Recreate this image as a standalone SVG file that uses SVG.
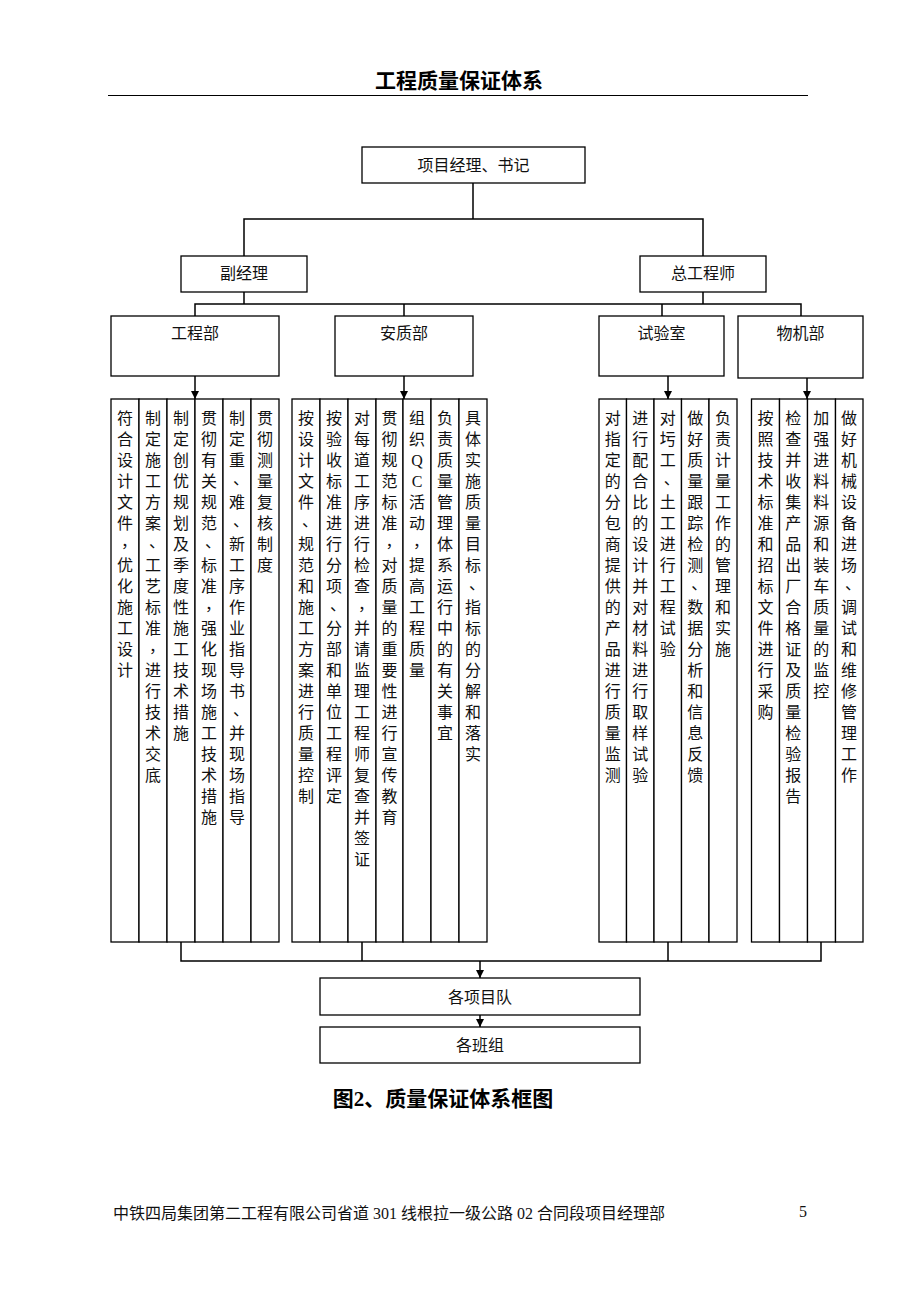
<svg xmlns="http://www.w3.org/2000/svg" width="920" height="1302" viewBox="0 0 920 1302">
<style>
.box{fill:#fff;stroke:#000;stroke-width:1.3}
.t{font-family:"Liberation Serif","Noto Sans CJK SC",serif;font-size:16px;text-anchor:middle;fill:#111}
.conn{stroke:#000;stroke-width:1.5;fill:none}
.h{font-family:"Liberation Serif","Noto Sans CJK SC",serif;font-size:21px;font-weight:bold;text-anchor:middle;fill:#000}
</style>
<defs>
<marker id="arr" markerUnits="userSpaceOnUse" markerWidth="9" markerHeight="9" refX="8" refY="4" orient="auto">
<path d="M0,0 L8,4 L0,8 z" fill="#000"/>
</marker>
</defs>
<rect width="920" height="1302" fill="#fff"/>
<text class="h" x="459" y="88">工程质量保证体系</text>
<line x1="108" y1="95.5" x2="808" y2="95.5" stroke="#000" stroke-width="1.2"/>

<g id="connectors">
<path class="conn" d="M473,183 V219 M244,256 V219 H703 V256"/>
<path class="conn" d="M244,292 V304 M703,292 V304 M195,316 V304 H801 V316 M404,304 V316 M662,304 V316"/>
<path class="conn" marker-end="url(#arr)" d="M195,376 V399"/>
<path class="conn" marker-end="url(#arr)" d="M404,376 V399"/>
<path class="conn" marker-end="url(#arr)" d="M668,376 V399"/>
<path class="conn" marker-end="url(#arr)" d="M807,378 V399"/>
<path class="conn" d="M181,942 V961 H821 V942 M362,942 V961 M668,942 V961"/>
<path class="conn" marker-end="url(#arr)" d="M480,961 V978"/>
<path class="conn" marker-end="url(#arr)" d="M480,1015 V1027"/>
</g>

<g id="n-pm"><rect class="box" x="362" y="147" width="223" height="36"/><text class="t" x="473.5" y="171">项目经理、书记</text></g>
<g id="n-dm"><rect class="box" x="181" y="256" width="126" height="36"/><text class="t" x="244" y="279">副经理</text></g>
<g id="n-ce"><rect class="box" x="640" y="256" width="126" height="36"/><text class="t" x="703" y="279">总工程师</text></g>
<g id="n-gcb"><rect class="box" x="111" y="316" width="168" height="60"/><text class="t" x="195" y="339">工程部</text></g>
<g id="n-azb"><rect class="box" x="335" y="316" width="138" height="60"/><text class="t" x="404" y="339">安质部</text></g>
<g id="n-syz"><rect class="box" x="599" y="316" width="125" height="60"/><text class="t" x="661.5" y="339">试验室</text></g>
<g id="n-wjb"><rect class="box" x="738" y="316" width="125" height="62"/><text class="t" x="800.5" y="339">物机部</text></g>

<g id="grp-gcb">
<g id="g1c1"><rect class="box" x="111" y="399" width="28" height="543"/><text class="t" x="125 125 125 125 125 125 129 125 125 125 125 125 125" y="424 445 466 487 508 529 547 571 592 613 634 655 676">符合设计文件，优化施工设计</text></g>
<g id="g1c2"><rect class="box" x="139" y="399" width="28" height="543"/><text class="t" x="153 153 153 153 153 153 157 153 153 153 153 157 153 153 153 153 153 153" y="424 445 466 487 508 529 547 571 592 613 634 652 676 697 718 739 760 781">制定施工方案、工艺标准，进行技术交底</text></g>
<g id="g1c3"><rect class="box" x="167" y="399" width="28" height="543"/><text class="t" x="181 181 181 181 181 181 181 181 181 181 181 181 181 181 181 181" y="424 445 466 487 508 529 550 571 592 613 634 655 676 697 718 739">制定创优规划及季度性施工技术措施</text></g>
<g id="g1c4"><rect class="box" x="195" y="399" width="28" height="543"/><text class="t" x="209 209 209 209 209 209 213 209 209 213 209 209 209 209 209 209 209 209 209 209" y="424 445 466 487 508 529 547 571 592 610 634 655 676 697 718 739 760 781 802 823">贯彻有关规范、标准，强化现场施工技术措施</text></g>
<g id="g1c5"><rect class="box" x="223" y="399" width="28" height="543"/><text class="t" x="237 237 237 241 237 241 237 237 237 237 237 237 237 237 241 237 237 237 237 237" y="424 445 466 484 508 526 550 571 592 613 634 655 676 697 715 739 760 781 802 823">制定重、难、新工序作业指导书、并现场指导</text></g>
<g id="g1c6"><rect class="box" x="251" y="399" width="28" height="543"/><text class="t" x="265 265 265 265 265 265 265 265" y="424 445 466 487 508 529 550 571">贯彻测量复核制度</text></g>
</g>

<g id="grp-azb">
<g id="g2c1"><rect class="box" x="292" y="399" width="28" height="543"/><text class="t" x="306 306 306 306 306 310 306 306 306 306 306 306 306 306 306 306 306 306 306" y="424 445 466 487 508 526 550 571 592 613 634 655 676 697 718 739 760 781 802">按设计文件、规范和施工方案进行质量控制</text></g>
<g id="g2c2"><rect class="box" x="320" y="399" width="28" height="543"/><text class="t" x="334 334 334 334 334 334 334 334 334 338 334 334 334 334 334 334 334 334 334" y="424 445 466 487 508 529 550 571 592 610 634 655 676 697 718 739 760 781 802">按验收标准进行分项、分部和单位工程评定</text></g>
<g id="g2c3"><rect class="box" x="348" y="399" width="28" height="543"/><text class="t" x="362 362 362 362 362 362 362 362 362 366 362 362 362 362 362 362 362 362 362 362 362 362" y="424 445 466 487 508 529 550 571 592 610 634 655 676 697 718 739 760 781 802 823 844 865">对每道工序进行检查，并请监理工程师复查并签证</text></g>
<g id="g2c4"><rect class="box" x="376" y="399" width="27" height="543"/><text class="t" x="389.5 389.5 389.5 389.5 389.5 389.5 393.5 389.5 389.5 389.5 389.5 389.5 389.5 389.5 389.5 389.5 389.5 389.5 389.5 389.5" y="424 445 466 487 508 529 547 571 592 613 634 655 676 697 718 739 760 781 802 823">贯彻规范标准，对质量的重要性进行宣传教育</text></g>
<g id="g2c5"><rect class="box" x="403" y="399" width="28" height="543"/><text class="t" x="417 417 417 417 417 417 421 417 417 417 417 417 417" y="424 445 466 487 508 529 547 571 592 613 634 655 676">组织QC活动，提高工程质量</text></g>
<g id="g2c6"><rect class="box" x="431" y="399" width="28" height="543"/><text class="t" x="445 445 445 445 445 445 445 445 445 445 445 445 445 445 445 445" y="424 445 466 487 508 529 550 571 592 613 634 655 676 697 718 739">负责质量管理体系运行中的有关事宜</text></g>
<g id="g2c7"><rect class="box" x="459" y="399" width="28" height="543"/><text class="t" x="473 473 473 473 473 473 473 473 477 473 473 473 473 473 473 473 473" y="424 445 466 487 508 529 550 571 589 613 634 655 676 697 718 739 760">具体实施质量目标、指标的分解和落实</text></g>
</g>

<g id="grp-syz">
<g id="g3c1"><rect class="box" x="599" y="399" width="27.5" height="543"/><text class="t" x="612.7 612.7 612.7 612.7 612.7 612.7 612.7 612.7 612.7 612.7 612.7 612.7 612.7 612.7 612.7 612.7 612.7 612.7" y="424 445 466 487 508 529 550 571 592 613 634 655 676 697 718 739 760 781">对指定的分包商提供的产品进行质量监测</text></g>
<g id="g3c2"><rect class="box" x="626.5" y="399" width="27.5" height="543"/><text class="t" x="640.2 640.2 640.2 640.2 640.2 640.2 640.2 640.2 640.2 640.2 640.2 640.2 640.2 640.2 640.2 640.2 640.2 640.2" y="424 445 466 487 508 529 550 571 592 613 634 655 676 697 718 739 760 781">进行配合比的设计并对材料进行取样试验</text></g>
<g id="g3c3"><rect class="box" x="654" y="399" width="27.5" height="543"/><text class="t" x="667.8 667.8 667.8 671.8 667.8 667.8 667.8 667.8 667.8 667.8 667.8 667.8" y="424 445 466 484 508 529 550 571 592 613 634 655">对圬工、土工进行工程试验</text></g>
<g id="g3c4"><rect class="box" x="681.5" y="399" width="27.5" height="543"/><text class="t" x="695.3 695.3 695.3 695.3 695.3 695.3 695.3 695.3 699.3 695.3 695.3 695.3 695.3 695.3 695.3 695.3 695.3 695.3" y="424 445 466 487 508 529 550 571 589 613 634 655 676 697 718 739 760 781">做好质量跟踪检测、数据分析和信息反馈</text></g>
<g id="g3c5"><rect class="box" x="709" y="399" width="28" height="543"/><text class="t" x="723 723 723 723 723 723 723 723 723 723 723 723" y="424 445 466 487 508 529 550 571 592 613 634 655">负责计量工作的管理和实施</text></g>
</g>

<g id="grp-wjb">
<g id="g4c1"><rect class="box" x="751.5" y="399" width="28" height="543"/><text class="t" x="765.4 765.4 765.4 765.4 765.4 765.4 765.4 765.4 765.4 765.4 765.4 765.4 765.4 765.4 765.4" y="424 445 466 487 508 529 550 571 592 613 634 655 676 697 718">按照技术标准和招标文件进行采购</text></g>
<g id="g4c2"><rect class="box" x="779.5" y="399" width="28" height="543"/><text class="t" x="793.3 793.3 793.3 793.3 793.3 793.3 793.3 793.3 793.3 793.3 793.3 793.3 793.3 793.3 793.3 793.3 793.3 793.3 793.3" y="424 445 466 487 508 529 550 571 592 613 634 655 676 697 718 739 760 781 802">检查并收集产品出厂合格证及质量检验报告</text></g>
<g id="g4c3"><rect class="box" x="807.5" y="399" width="28" height="543"/><text class="t" x="821.3 821.3 821.3 821.3 821.3 821.3 821.3 821.3 821.3 821.3 821.3 821.3 821.3 821.3" y="424 445 466 487 508 529 550 571 592 613 634 655 676 697">加强进料料源和装车质量的监控</text></g>
<g id="g4c4"><rect class="box" x="835.5" y="399" width="27.5" height="543"/><text class="t" x="849 849 849 849 849 849 849 849 853 849 849 849 849 849 849 849 849 849" y="424 445 466 487 508 529 550 571 589 613 634 655 676 697 718 739 760 781">做好机械设备进场、调试和维修管理工作</text></g>
</g>

<g id="n-xmd"><rect class="box" x="320" y="978" width="320" height="37"/><text class="t" x="480" y="1003">各项目队</text></g>
<g id="n-bz"><rect class="box" x="320" y="1027" width="320" height="36"/><text class="t" x="480" y="1051">各班组</text></g>

<text class="h" x="443" y="1106">图2、质量保证体系框图</text>
<text class="t" x="113" y="1219" style="text-anchor:start">中铁四局集团第二工程有限公司省道 301 线根拉一级公路 02 合同段项目经理部</text>
<text class="t" x="803" y="1217">5</text>
</svg>
